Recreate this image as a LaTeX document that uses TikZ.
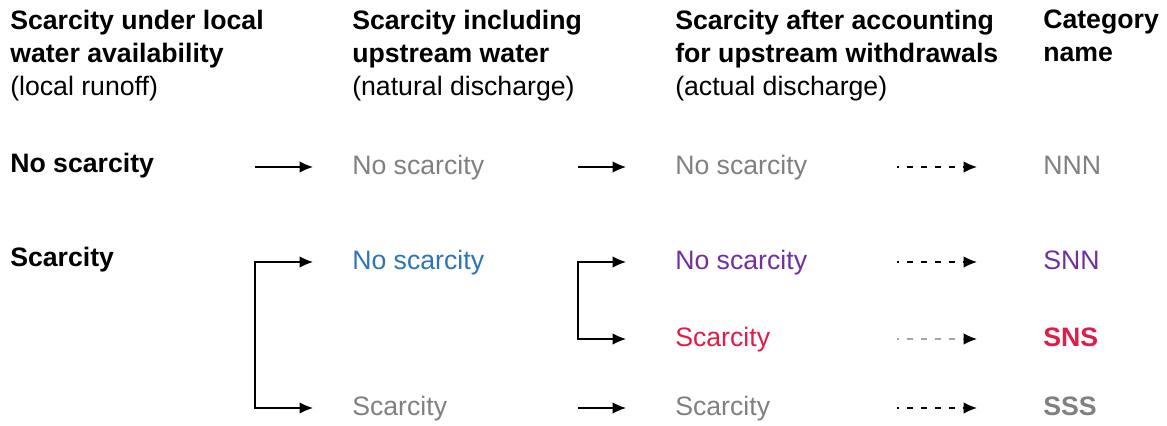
\documentclass[tikz,border=0pt]{standalone}
\usepackage{fontspec}
\setmainfont{Liberation Sans}
\usetikzlibrary{arrows.meta,positioning}
\definecolor{mgrey}{RGB}{128,128,128}
\definecolor{mblue}{RGB}{46,117,182}
\definecolor{mpurple}{RGB}{112,48,160}
\definecolor{mred}{RGB}{226,28,72}
\newcommand{\bigtype}{\fontsize{20}{24.75}\selectfont}
\tikzset{
  colhead/.style={anchor=north west,align=left,inner sep=0pt,font=\bigtype\bfseries},
  state/.style={anchor=west,inner sep=0pt,text height=11.5pt,text depth=0pt,font=\bigtype},
  strong/.style={state,font=\bigtype\bfseries},
  flow/.style={line width=0.9pt,-{Latex[length=10pt,width=8.5pt]}},
  fork/.style={line width=0.9pt,{Latex[length=10pt,width=8.5pt]}-{Latex[length=10pt,width=8.5pt]}},
  link/.style={flow,dash pattern=on 4.5pt off 6pt,dash phase=3pt},
  faint/.style={link,mgrey!70,-{Latex[length=10pt,width=8.5pt,black]}}
}

\begin{document}
\begin{tikzpicture}[x=0.75pt,y=-0.75pt]
  \useasboundingbox (0,0) rectangle (1167,425);
  % column heads
  \node[colhead] (head-loc) at (10,10) {Scarcity under local\\water availability\\{\mdseries(local runoff)}};
  \node[colhead] (head-up) at (352,10) {Scarcity including\\upstream water\\{\mdseries(natural discharge)}};
  \node[colhead] (head-act) at (675,10) {Scarcity after accounting\\for upstream withdrawals\\{\mdseries(actual discharge)}};
  \node[colhead] (head-cat) at (1043,10) {Category\\name};
  % arrow columns
  \coordinate (p1) at (255,0); \coordinate (q1) at (313,0);
  \coordinate (p2) at (578,0); \coordinate (q2) at (626,0);
  \coordinate (p3) at (897,0); \coordinate (q3) at (977,0);
  % local runoff
  \node[strong] (loc-1) at (10,165) {No scarcity};
  \node[strong] (loc-2) at (10,259) {Scarcity};
  % natural discharge
  \node[state,text=mgrey] (up-1) at (352,167) {No scarcity};
  \node[state,text=mblue] (up-2) at (352,262) {No scarcity};
  \node[state,text=mgrey] (up-3) at (352,408) {Scarcity};
  % actual discharge
  \node[state,text=mgrey] (act-1) at (675,167) {No scarcity};
  \node[state,text=mpurple] (act-2) at (675,262) {No scarcity};
  \node[state,text=mred] (act-3) at (675,339) {Scarcity};
  \node[state,text=mgrey] (act-4) at (675,408) {Scarcity};
  % categories
  \node[state,text=mgrey] (cat-1) at (1043,167) {NNN};
  \node[state,text=mpurple] (cat-2) at (1043,262) {SNN};
  \node[strong,text=mred] (cat-3) at (1043,339) {SNS};
  \node[strong,text=mgrey] (cat-4) at (1043,408) {SSS};
  % connectors
  \draw[flow] (p1 |- up-1.west) -- (q1 |- up-1.west);
  \draw[fork] (q1 |- up-2.west) -- (p1 |- up-2.west) -- (p1 |- up-3.west) -- (q1 |- up-3.west);
  \draw[flow] (p2 |- act-1.west) -- (q2 |- act-1.west);
  \draw[fork] (q2 |- act-2.west) -- (p2 |- act-2.west) -- (p2 |- act-3.west) -- (q2 |- act-3.west);
  \draw[flow] (p2 |- act-4.west) -- (q2 |- act-4.west);
  \draw[link] (p3 |- cat-1.west) -- (q3 |- cat-1.west);
  \draw[link] (p3 |- cat-2.west) -- (q3 |- cat-2.west);
  \draw[faint] (p3 |- cat-3.west) -- (q3 |- cat-3.west);
  \draw[link] (p3 |- cat-4.west) -- (q3 |- cat-4.west);
\end{tikzpicture}
\end{document}
